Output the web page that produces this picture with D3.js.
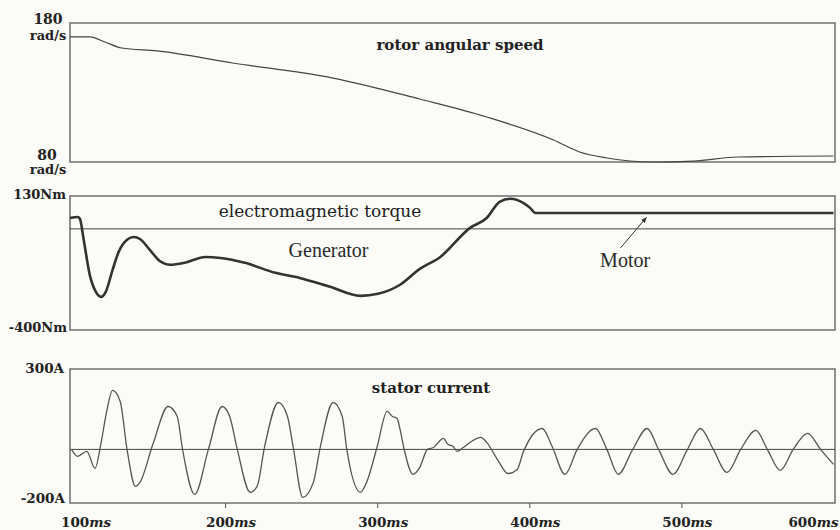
<!DOCTYPE html>
<html>
<head>
<meta charset="utf-8">
<script src="https://d3js.org/d3.v7.min.js"></script>
<style>
  body { margin: 0; background: #fbfbf8; }
  .lbl { font-family: "DejaVu Serif", serif; font-weight: bold; fill: #222; }
  .note { font-family: "Liberation Serif", "Times New Roman", serif; fill: #2a2a2a; }
</style>
</head>
<body>
<div id="chart"></div>
<script>
// time axis (ms)
var timeTicks = [100, 200, 300, 400, 500, 600];

// rotor angular speed (rad/s)
var speedTime  = [98, 111, 121, 132, 155, 205, 271, 328, 372, 416, 433, 451, 481, 508, 537, 600];
var speedValue = [170, 170, 166.3, 162, 159.9, 151.2, 140.4, 125.3, 112.4, 95.8, 87.2, 82.9, 80, 80.7, 83.6, 84.3];

// electromagnetic torque (Nm)
var torqueTime  = [98, 103, 104.5, 107, 111, 115, 118.5, 121.5, 126, 130, 135.5, 140, 144, 150.5, 157, 164, 173.5, 187, 197, 213, 233, 249, 269, 289, 300.5, 315, 328, 341.5, 361, 372, 380.5, 387.5, 396, 400.5, 404, 450, 500, 550, 600];
var torqueValue = [43, 47, 40, -43, -182, -249, -269, -249, -162, -91, -43, -32, -40, -83, -127, -142, -134, -111, -115, -134, -174, -194, -229, -265, -257, -221, -158, -111, 4, 43, 107, 119, 103, 83, 63, 63, 63, 63, 63];

// stator current (A)
var currentTime  = [99, 103, 109, 114.5, 118, 122, 126, 131, 135.5, 141, 144, 152.5, 162.5, 168.5, 172, 180, 189, 198, 203, 208, 216.5, 221, 226, 235, 241, 245, 251, 258, 262.5, 271, 277, 280, 289, 293, 300, 306.5, 310, 313, 315, 318, 323.5, 328, 333, 337, 343.5, 346.5, 350, 352.5, 356.5, 361, 368, 372, 379, 386, 392, 396, 408.5, 415, 423.5, 431.5, 443.5, 451, 458.5, 468, 477.5, 485, 494.5, 504, 512.5, 521, 530, 539, 549, 556.5, 565, 573.5, 583, 591.5, 600];
var currentValue = [0, -26, -7, -71, 11, 138, 220, 179, 0, -138, -123, 19, 160, 123, 0, -168, 0, 160, 123, 0, -160, -138, 11, 175, 123, 0, -179, -123, 7, 175, 123, 0, -160, -123, 11, 142, 123, 116, 75, -7, -93, -67, 0, 7, 41, 19, 11, -7, 7, 26, 45, 26, -37, -90, -75, -11, 78, 11, -93, 0, 78, 0, -93, 0, 78, 0, -93, 0, 78, 0, -86, 0, 71, 0, -78, 0, 60, 0, -56];

var width = 840, height = 530;

var svg = d3.select("#chart").append("svg")
    .attr("width", width)
    .attr("height", height);

var x = d3.scaleLinear().domain([98, 601]).range([70, 835]);

var ySpeed   = d3.scaleLinear().domain([80, 180]).range([162, 23]);
var yTorque  = d3.scaleLinear().domain([-400, 130]).range([330, 196]);
var yCurrent = d3.scaleLinear().domain([-200, 300]).range([503, 369]);

// panel frames
function frame(y) {
    svg.append("rect")
        .attr("x", x.range()[0]).attr("y", y.range()[1])
        .attr("width", x.range()[1] - x.range()[0])
        .attr("height", y.range()[0] - y.range()[1])
        .attr("fill", "none")
        .attr("stroke", "#707070")
        .attr("stroke-width", 1.5);
}
frame(ySpeed);
frame(yTorque);
frame(yCurrent);

// zero lines
[yTorque, yCurrent].forEach(function(y) {
    svg.append("line")
        .attr("x1", x.range()[0]).attr("x2", x.range()[1])
        .attr("y1", y(0)).attr("y2", y(0))
        .attr("stroke", "#444").attr("stroke-width", 1);
});

function drawLine(t, v, y, color, w) {
    var line = d3.line()
        .x(function(d) { return x(d[0]); })
        .y(function(d) { return y(d[1]); })
        .curve(d3.curveMonotoneX);
    svg.append("path")
        .datum(d3.zip(t, v))
        .attr("d", line)
        .attr("fill", "none")
        .attr("stroke", color)
        .attr("stroke-width", w)
        .attr("stroke-linejoin", "round");
}

drawLine(speedTime, speedValue, ySpeed, "#444", 1.2);
drawLine(torqueTime, torqueValue, yTorque, "#333", 2.6);
drawLine(currentTime, currentValue, yCurrent, "#555", 1.3);

// y labels
function ylabel(txt, xpos, ypos, size, anchor) {
    svg.append("text").attr("class", "lbl")
        .attr("x", xpos).attr("y", ypos)
        .attr("text-anchor", anchor)
        .style("font-size", size + "px")
        .text(txt);
}
ylabel("180", 48, 24, 14, "middle");
ylabel("rad/s", 48, 40, 13, "middle");
ylabel("80", 47, 160, 14, "middle");
ylabel("rad/s", 48, 174, 13, "middle");
ylabel("130Nm", 66, 199, 13, "end");
ylabel("-400Nm", 67, 332, 13, "end");
ylabel("300A", 64, 373, 13.5, "end");
ylabel("-200A", 65, 503, 13.5, "end");

// panel titles
svg.append("text").attr("class", "lbl")
    .attr("x", 460).attr("y", 50).attr("text-anchor", "middle")
    .style("font-size", "15px").text("rotor angular speed");
svg.append("text")
    .attr("x", 320).attr("y", 217).attr("text-anchor", "middle")
    .style("font-family", "'DejaVu Serif', serif").style("font-size", "17px").style("fill", "#222")
    .text("electromagnetic torque");
svg.append("text").attr("class", "lbl")
    .attr("x", 431).attr("y", 393).attr("text-anchor", "middle")
    .style("font-size", "15px").text("stator current");

// annotations
svg.append("text").attr("class", "note")
    .attr("x", x(268)).attr("y", yTorque(-111)).attr("text-anchor", "middle")
    .style("font-size", "20px").text("Generator");
svg.append("text").attr("class", "note")
    .attr("x", x(463)).attr("y", yTorque(-150)).attr("text-anchor", "middle")
    .style("font-size", "20px").text("Motor");

svg.append("defs").append("marker")
    .attr("id", "arrow").attr("viewBox", "0 0 10 10")
    .attr("refX", 9).attr("refY", 5)
    .attr("markerWidth", 6).attr("markerHeight", 6)
    .attr("orient", "auto")
  .append("path").attr("d", "M0,1 L10,5 L0,9 Z").attr("fill", "#333");

svg.append("line")
    .attr("x1", x(460)).attr("y1", yTorque(-75))
    .attr("x2", x(477)).attr("y2", yTorque(45))
    .attr("stroke", "#333").attr("stroke-width", 1)
    .attr("marker-end", "url(#arrow)");

// bottom time axis
var xAxis = d3.axisBottom(x)
    .tickValues(timeTicks.slice(1, -1))
    .tickSize(5)
    .tickFormat("");
var gx = svg.append("g")
    .attr("transform", "translate(0," + yCurrent.range()[0] + ")")
    .call(xAxis);
gx.select(".domain").remove();
gx.selectAll(".tick line").attr("stroke", "#555");

var tl = svg.selectAll(".tlabel")
    .data(timeTicks)
    .join("text")
    .attr("class", "lbl")
    .attr("x", function(d) { return x(d); })
    .attr("dx", function(d, i) { return i === 0 ? 13 : (i === timeTicks.length - 1 ? -20 : 6); })
    .attr("y", 527)
    .attr("text-anchor", "middle")
    .style("font-size", "13.5px");
tl.append("tspan").text(function(d) { return d; });
tl.append("tspan").style("font-style", "italic").text("ms");
</script>
</body>
</html>
